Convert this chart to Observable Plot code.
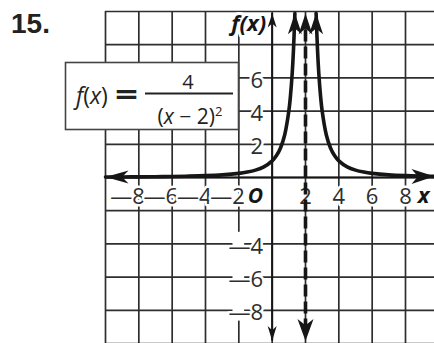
<!DOCTYPE html>
<html>
<head>
<meta charset="utf-8">
<script src="https://cdn.jsdelivr.net/npm/d3@7"></script>
<script src="https://cdn.jsdelivr.net/npm/@observablehq/plot@0.6"></script>
<style>
  html, body { margin: 0; padding: 0; background: #fff; }
  #chart { width: 434px; height: 343px; overflow: hidden; }
</style>
</head>
<body>
<div id="chart"></div>
<script>
// Graph paper lines (every 2 units)
const gridX = [-10, -8, -6, -4, -2, 0, 2, 4, 6, 8, 10];
const gridY = [-10, -8, -6, -4, -2, 0, 2, 4, 6, 8, 10];

// Tick labels on the axes
const xTickLabels = [-8, -6, -4, -2, 2, 4, 6, 8];
const yTickLabels = [6, 4, 2, -4, -6, -8];

// f(x) = 4 / (x - 2)^2, left branch (x < 2)
const leftX = [-10, -9, -8, -7, -6, -5, -4, -3, -2, -1.5, -1, -0.5, 0, 0.25, 0.5, 0.75, 1, 1.1, 1.2, 1.28, 1.364];
const leftY = [0.028, 0.033, 0.04, 0.049, 0.0625, 0.082, 0.111, 0.16, 0.25, 0.327, 0.444, 0.64, 1, 1.306, 1.778, 2.56, 4, 4.94, 6.25, 7.72, 9.89];

// right branch (x > 2)
const rightX = [2.636, 2.72, 2.8, 2.9, 3, 3.25, 3.5, 3.75, 4, 4.5, 5, 5.5, 6, 7, 8, 9, 9.74];
const rightY = [9.89, 7.72, 6.25, 4.94, 4, 2.56, 1.778, 1.306, 1, 0.64, 0.444, 0.327, 0.25, 0.16, 0.111, 0.082, 0.067];

// vertical asymptote and the reach of the axis arrows
const asymptoteX = 2;
const axisTop = 9.88;
const axisBottom = -9.85;

const leftBranch = leftX.map((x, i) => ({x, y: leftY[i]}));
const rightBranch = rightX.map((x, i) => ({x, y: rightY[i]}));

// filled "stealth" arrowhead whose tip sits on the anchor point
function arrowHead(ux, uy, len, half) {
  const nx = -uy, ny = ux;
  return {
    draw(ctx) {
      ctx.moveTo(0, 0);
      ctx.lineTo(-len * ux + half * nx, -len * uy + half * ny);
      ctx.lineTo(-0.72 * len * ux, -0.72 * len * uy);
      ctx.lineTo(-len * ux - half * nx, -len * uy - half * ny);
      ctx.closePath();
    }
  };
}
const bigUp = arrowHead(0, -1, 21, 7);
const bigDown = arrowHead(0, 1, 22, 8);
const bigLeft = arrowHead(-1, 0, 23, 6.5);
const bigRight = arrowHead(1, 0, 23, 7.5);
const smallUp = arrowHead(0, -1, 14, 4.5);
const smallDown = arrowHead(0, 1, 15, 4.5);

const ink = "#161616";
const gridInk = "#2e2e2e";
const labelInk = "#2e2e2e";
const labelFont = "Open Sans";

const fmt = d => d < 0 ? "\u2014" + Math.abs(d) : String(d);
const halo = {stroke: "#fff", strokeWidth: 5, paintOrder: "stroke"};
const labelStyle = {fontFamily: labelFont, fontSize: 22, fill: labelInk, ...halo};
const nameStyle = {fontFamily: labelFont, fontWeight: "bold", fontStyle: "italic", fill: ink, ...halo};

const first = a => [a[0]];
const last = a => [a[a.length - 1]];

const negY = yTickLabels.filter(d => d < 0);
const negBand = [{y1: d3.min(negY) - 0.65, y2: d3.max(negY) + 0.7}];

const chart = Plot.plot({
  width: 434,
  height: 343,
  marginLeft: 105,
  marginRight: 0,
  marginTop: 11,
  marginBottom: 0,
  x: {domain: [-10, 9.74], axis: null},
  y: {domain: [-10, 10], axis: null},
  style: {background: "#fff", overflow: "visible"},
  marks: [
    Plot.ruleX(gridX, {stroke: gridInk, strokeWidth: 1.7}),
    Plot.ruleY(gridY, {stroke: gridInk, strokeWidth: 1.7}),
    // axes
    Plot.ruleY([0], {stroke: ink, strokeWidth: 2}),
    Plot.ruleX([0], {y1: axisBottom, y2: axisTop, stroke: ink, strokeWidth: 2}),
    // white band behind the negative y labels
    Plot.rect(negBand, {x1: () => -2.35, x2: () => -1.65, y1: "y1", y2: "y2", fill: "#fff"}),
    // y tick labels
    Plot.text(yTickLabels, {
      x: () => 0, y: d => d, text: fmt, textAnchor: "end", dx: -9, dy: 3, ...labelStyle
    }),
    // x tick labels, digit centred on its grid line
    Plot.text(xTickLabels.filter(d => d < 0), {
      x: d => d, y: () => 0, text: fmt, textAnchor: "end", dx: 6, dy: 19, ...labelStyle
    }),
    Plot.text(xTickLabels.filter(d => d > 0), {
      x: d => d, y: () => 0, text: fmt, textAnchor: "middle", dy: 19, ...labelStyle
    }),
    // origin
    Plot.text(["O"], {
      x: () => 0, y: () => 0, text: d => d, textAnchor: "end", dx: -9, dy: 19, fontSize: 21, ...nameStyle
    }),
    // axis names
    Plot.text(["x"], {
      x: () => 8, y: () => 0, text: d => d, dx: 18, dy: 18, fontSize: 22, ...nameStyle
    }),
    Plot.text(["f(x)"], {
      x: () => 0, y: () => 10, text: d => d, textAnchor: "end", dx: -6, dy: 12, fontSize: 22,
      ...nameStyle, strokeWidth: 6
    }),
    // the function
    Plot.line(leftBranch, {x: "x", y: "y", curve: "catmull-rom", stroke: ink, strokeWidth: 3.6}),
    Plot.line(rightBranch, {x: "x", y: "y", curve: "catmull-rom", stroke: ink, strokeWidth: 3.6}),
    // asymptote x = 2
    Plot.ruleX([asymptoteX], {y1: axisBottom + 0.6, y2: axisTop - 0.6, stroke: ink, strokeWidth: 3.6, strokeDasharray: "12,5"}),
    // arrowheads
    Plot.dot(first(leftBranch), {x: "x", y: "y", symbol: bigLeft, fill: ink, stroke: "none"}),
    Plot.dot(last(rightBranch), {x: "x", y: "y", symbol: bigRight, fill: ink, stroke: "none"}),
    Plot.dot([last(leftBranch)[0], first(rightBranch)[0], {x: asymptoteX, y: axisTop}], {x: "x", y: "y", symbol: bigUp, fill: ink, stroke: "none"}),
    Plot.dot([{x: asymptoteX, y: axisBottom}], {x: "x", y: "y", symbol: bigDown, fill: ink, stroke: "none"}),
    Plot.dot([{x: 0, y: axisTop}], {x: "x", y: "y", symbol: smallUp, fill: ink, stroke: "none"}),
    Plot.dot([{x: 0, y: axisBottom}], {x: "x", y: "y", symbol: smallDown, fill: ink, stroke: "none"})
  ]
});

document.getElementById("chart").appendChild(chart);

// exercise number and the boxed equation
const svg = d3.select(chart);
svg.append("text")
  .attr("x", 11).attr("y", 33).attr("text-anchor", "start")
  .attr("font-family", "Liberation Sans, Arial, sans-serif")
  .attr("font-weight", "bold").attr("font-size", 28).attr("fill", "#222")
  .text("15.");

const eq = svg.append("g").attr("font-family", labelFont).attr("fill", "#222").attr("text-anchor", "start");
eq.append("rect")
  .attr("x", 65.5).attr("y", 62.5).attr("width", 173).attr("height", 67)
  .attr("fill", "#fff").attr("stroke", "#444").attr("stroke-width", 1.6);
const lhs = eq.append("text").attr("x", 76).attr("y", 104).attr("font-size", 23);
lhs.append("tspan").attr("font-style", "italic").text("f");
lhs.append("tspan").text("(");
lhs.append("tspan").attr("font-style", "italic").text("x");
lhs.append("tspan").text(")");
eq.append("text").attr("x", 115).attr("y", 105).attr("font-size", 30).attr("font-weight", "bold")
  .attr("textLength", 23).attr("lengthAdjust", "spacingAndGlyphs").text("=");
eq.append("line").attr("x1", 145).attr("x2", 233).attr("y1", 93.5).attr("y2", 93.5)
  .attr("stroke", "#222").attr("stroke-width", 1.8);
eq.append("text").attr("x", 188).attr("y", 89).attr("font-size", 20).attr("text-anchor", "middle").text("4");
const den = eq.append("text").attr("x", 190).attr("y", 124).attr("font-size", 21).attr("text-anchor", "middle");
den.append("tspan").text("(");
den.append("tspan").attr("font-style", "italic").text("x");
den.append("tspan").text(" \u2212 2)");
den.append("tspan").attr("font-size", 13).attr("dy", -8).text("2");
</script>
</body>
</html>
